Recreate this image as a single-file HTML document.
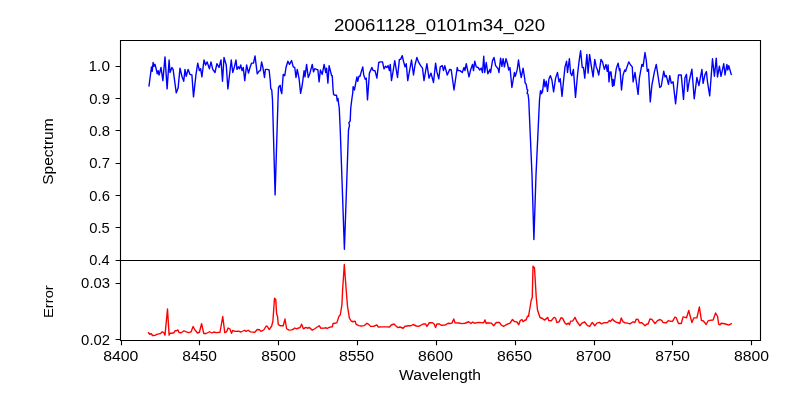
<!DOCTYPE html>
<html><head><meta charset="utf-8"><style>html,body{margin:0;padding:0;background:#fff;width:800px;height:400px;overflow:hidden}svg{display:block;will-change:transform}text{font-family:"Liberation Sans",sans-serif;fill:#000}</style></head><body><svg width="800" height="400" viewBox="0 0 800 400">
<rect width="800" height="400" fill="#fff"/>
<polyline points="149.00,86.00 150.60,73.75 151.50,66.85 152.25,71.30 153.10,62.50 154.00,66.30 155.00,64.35 156.00,68.10 157.25,73.80 158.10,70.60 159.10,75.00 161.00,67.50 162.90,80.65 165.00,56.85 167.10,88.90 169.10,60.00 170.00,72.50 171.90,67.50 173.10,69.40 176.25,92.90 178.10,88.10 180.00,68.10 181.90,76.25 183.75,81.30 185.00,69.35 186.25,76.30 188.10,69.35 190.00,74.40 191.90,75.00 193.50,96.90 196.00,74.40 197.75,63.10 199.40,70.65 200.60,68.70 201.90,76.90 204.00,60.00 205.60,65.00 207.10,61.85 209.40,68.80 211.00,61.85 212.75,69.40 215.00,72.50 216.90,63.70 219.00,67.50 221.00,60.00 222.50,81.30 224.00,57.50 226.25,65.00 227.90,88.90 231.25,60.00 232.75,72.50 234.40,66.90 236.00,60.00 237.00,69.40 238.50,66.85 239.50,68.80 240.75,65.00 242.00,70.65 243.25,67.50 244.75,80.65 246.60,65.00 248.50,73.15 250.00,67.50 251.60,63.10 253.50,63.15 255.00,55.85 257.25,73.80 259.10,71.20 260.40,70.65 261.60,61.85 262.90,67.50 264.50,77.50 265.40,69.35 267.25,69.40 269.10,70.00 270.30,81.00 270.75,88.50 271.75,90.00 272.50,100.00 275.10,194.90 278.00,100.00 278.50,87.50 279.50,86.00 280.25,85.40 280.70,90.00 281.75,93.60 283.25,74.35 284.75,75.65 286.00,67.50 287.90,61.20 289.50,64.40 291.60,60.60 293.25,66.90 294.75,67.50 296.00,77.50 297.25,69.35 299.10,78.75 300.60,93.40 302.25,85.00 304.10,70.60 305.00,76.90 306.60,64.35 308.25,77.50 309.75,73.75 312.25,64.35 313.50,71.90 314.75,68.70 316.60,69.40 317.90,70.00 319.10,81.90 320.40,70.00 322.25,74.40 324.10,64.35 325.75,72.50 326.60,68.10 327.90,83.15 329.10,65.60 331.60,75.60 332.25,75.60 333.00,88.50 333.50,94.00 334.25,95.00 335.50,95.20 336.50,95.20 337.25,100.90 338.00,98.40 338.50,103.00 339.25,108.00 340.25,130.00 342.00,180.00 344.40,249.20 346.80,180.00 348.50,130.00 349.50,125.30 348.90,122.60 350.20,121.00 350.75,108.00 352.00,98.00 352.75,93.00 353.10,86.60 354.40,90.00 356.90,76.85 357.75,81.30 359.00,76.20 360.00,76.30 361.25,71.90 362.75,66.85 363.75,75.00 365.25,79.40 366.25,78.10 367.50,99.90 369.40,73.10 371.90,67.50 373.10,70.60 375.00,70.60 376.90,78.15 378.75,62.50 380.60,61.85 382.50,61.90 384.00,68.80 385.60,66.20 386.90,67.50 388.10,65.60 389.40,70.65 390.25,64.35 391.50,80.65 393.10,71.25 394.75,60.60 396.00,68.10 397.50,77.50 399.40,59.35 400.60,59.40 402.25,55.60 403.50,61.25 405.00,66.90 406.25,63.70 407.75,80.65 411.50,60.00 413.50,75.00 415.00,65.00 416.90,57.50 418.50,61.90 420.60,65.60 422.50,68.10 424.00,80.65 426.90,63.70 429.00,78.15 431.00,73.10 433.50,82.50 435.60,63.10 436.90,71.90 438.75,78.80 440.25,66.90 442.25,65.60 443.50,70.65 444.75,65.60 447.25,75.00 449.75,69.35 451.25,70.00 454.00,90.00 457.25,67.50 458.10,70.65 460.00,70.60 462.25,72.50 464.00,67.50 465.00,70.65 466.25,63.70 469.00,76.90 470.60,70.00 472.50,64.35 473.50,70.65 474.75,61.20 476.25,66.90 478.10,67.50 479.75,70.00 481.25,68.10 482.50,72.50 483.75,56.20 484.75,72.50 486.25,62.50 487.90,73.80 490.00,69.35 490.60,72.50 492.50,60.60 494.00,57.50 495.60,65.60 498.10,68.75 499.00,72.50 500.60,58.10 501.90,66.30 503.10,58.70 504.40,66.90 506.00,58.70 507.50,63.75 508.75,70.00 510.00,67.50 511.90,87.50 514.40,72.50 515.25,76.30 516.25,73.10 517.25,69.40 518.50,60.00 520.00,71.00 521.25,77.50 523.10,68.10 524.75,78.75 525.00,82.50 525.75,83.60 526.10,84.20 526.75,87.50 527.00,89.40 527.75,90.10 527.10,93.50 528.00,94.00 528.75,100.00 532.00,175.00 533.90,239.60 536.00,175.00 539.50,100.00 540.50,90.60 540.90,93.80 541.75,93.40 542.50,89.60 542.50,91.90 544.00,79.35 545.00,86.90 546.25,81.20 547.50,91.40 549.00,78.75 550.40,75.60 551.90,80.00 553.60,91.90 555.60,78.10 557.50,72.50 559.00,81.90 560.25,78.70 562.00,96.40 563.75,78.75 565.00,66.90 566.60,61.20 567.50,72.50 569.40,58.70 570.60,73.10 571.90,75.65 573.40,69.35 575.50,97.40 577.50,75.00 579.00,61.90 580.60,50.60 582.25,67.50 583.50,67.50 584.75,78.15 586.90,54.35 588.10,73.15 589.60,54.35 591.25,65.60 593.10,76.90 594.75,59.35 596.25,66.90 597.50,70.00 598.75,75.00 601.00,59.35 602.50,61.90 604.40,69.40 606.00,64.35 607.25,71.30 608.10,65.00 609.00,81.90 610.00,71.85 611.00,71.90 612.50,86.30 613.10,79.35 614.00,85.65 616.25,68.75 618.10,63.10 619.40,70.65 620.00,68.70 621.50,90.00 623.10,75.00 624.75,70.00 625.60,71.30 628.75,61.85 630.60,65.00 632.25,66.90 633.10,81.90 635.00,72.50 638.10,94.40 639.40,78.10 640.60,71.25 641.90,64.35 643.10,66.30 645.00,52.50 646.25,60.00 647.25,71.30 648.50,69.35 650.25,101.90 651.90,85.00 654.40,71.90 656.25,64.35 658.10,76.25 659.75,87.50 661.25,86.25 663.75,71.20 665.00,76.90 666.25,75.60 668.50,84.40 669.75,75.60 671.25,83.15 673.10,81.85 675.60,103.80 678.50,75.00 681.25,75.00 683.50,99.40 685.00,77.50 686.50,74.35 687.60,91.30 689.20,81.25 691.90,69.10 694.20,98.80 696.90,77.50 698.90,85.65 701.90,69.35 703.10,83.40 705.00,74.50 706.40,71.60 707.40,81.25 709.70,95.90 712.50,58.70 714.40,76.30 716.25,58.10 717.50,76.90 719.40,66.20 721.00,76.30 723.75,63.70 725.00,75.00 726.90,64.35 727.75,70.00 728.75,65.60 731.25,74.40" fill="none" stroke="#0000ff" stroke-width="1.39" stroke-linejoin="round" stroke-linecap="square"/>
<polyline points="148.50,332.75 149.75,334.25 151.25,333.60 152.50,335.50 154.00,335.50 155.60,335.10 156.90,334.25 158.75,333.90 160.60,333.50 162.25,331.75 163.75,332.50 165.00,335.10 167.50,309.00 169.10,335.10 170.00,333.25 171.90,333.25 173.75,332.75 175.25,330.75 176.50,330.75 177.90,329.90 179.00,332.60 181.25,332.75 184.00,330.75 186.25,331.90 188.75,332.60 191.00,331.90 193.10,326.50 195.00,330.00 197.50,333.00 199.40,332.25 201.60,323.60 203.75,333.50 206.25,333.50 209.40,331.75 211.90,333.00 213.75,332.00 216.25,332.60 220.00,332.25 222.75,316.50 224.75,332.60 226.50,331.90 228.10,328.00 230.00,329.00 231.50,333.25 232.75,330.50 235.00,331.40 238.50,331.10 241.00,332.00 244.50,330.25 246.00,331.40 248.25,330.25 250.40,331.90 254.75,332.25 257.25,329.50 259.50,329.75 261.00,331.40 263.75,330.00 266.00,326.25 267.25,326.25 269.10,329.50 271.60,326.25 272.90,321.25 274.50,298.25 275.75,299.40 276.60,313.75 277.50,316.25 278.25,324.40 280.00,325.75 281.25,325.75 283.25,325.75 285.00,319.00 286.60,328.75 289.10,330.10 291.60,329.90 293.25,329.25 294.75,328.00 296.60,328.90 298.50,328.00 300.00,327.60 301.60,324.25 303.50,328.90 305.75,327.40 307.90,328.25 309.10,327.40 312.25,330.10 314.75,328.75 319.10,325.75 321.00,328.25 324.10,328.10 326.00,327.75 327.25,328.50 329.10,327.40 332.25,326.75 333.10,323.50 335.60,323.25 336.90,322.60 339.00,316.25 340.25,315.00 341.90,305.00 342.60,290.00 344.30,264.50 346.20,290.00 347.50,306.25 349.40,318.10 351.25,321.00 353.10,321.75 355.00,321.10 356.25,324.40 358.75,325.60 361.25,326.00 364.40,325.60 366.90,323.25 368.75,324.40 370.60,326.40 373.75,326.25 376.90,324.90 378.10,327.00 382.50,326.90 386.25,326.90 389.40,327.00 391.25,325.00 394.00,324.00 396.25,326.25 398.10,327.60 400.00,327.00 403.10,328.25 405.00,326.25 408.75,325.75 411.00,325.75 413.10,324.50 416.25,326.00 418.75,326.40 423.10,324.00 425.60,324.00 426.90,326.40 429.40,322.75 432.50,322.75 434.00,323.75 435.60,327.60 436.90,324.00 439.40,324.00 441.25,325.25 445.00,325.10 448.10,323.25 450.00,323.50 451.90,323.10 453.75,319.00 455.00,322.75 458.75,323.00 461.90,323.60 465.00,323.25 468.75,321.75 471.00,323.50 472.75,322.00 474.40,323.25 478.75,322.40 481.25,322.60 483.75,322.75 485.00,319.90 486.25,323.50 487.50,322.75 491.25,323.10 493.75,325.75 496.25,322.50 499.40,322.40 501.25,325.00 503.50,326.40 506.25,324.75 510.00,323.10 512.50,319.50 514.40,321.50 516.90,321.90 518.75,324.75 520.25,320.60 521.90,319.50 523.10,321.75 524.40,320.50 526.25,319.75 527.50,316.10 528.50,316.40 530.00,307.50 531.25,300.00 532.25,297.50 533.00,266.30 534.50,268.00 536.25,297.50 537.50,310.00 540.00,317.50 542.50,318.50 544.60,320.10 547.75,317.40 548.75,320.60 551.25,320.75 554.00,317.40 555.60,318.10 556.90,322.60 559.00,321.90 561.00,317.75 562.50,318.10 565.00,323.10 566.25,324.25 568.50,323.25 569.40,324.75 570.60,321.10 572.75,321.00 575.00,317.40 576.90,321.50 580.00,325.75 581.90,323.10 584.75,322.00 587.50,325.60 589.75,326.40 592.25,322.40 594.75,325.75 596.90,323.10 599.40,322.40 601.50,323.90 603.75,322.75 607.50,322.60 609.40,320.50 610.60,321.40 612.50,319.00 613.75,320.60 615.60,321.90 618.10,322.75 619.75,323.50 621.25,318.00 623.10,321.90 625.00,322.75 627.50,323.10 630.00,323.90 633.10,321.75 634.75,322.60 636.25,319.25 638.10,319.40 639.40,322.75 641.90,322.75 645.00,325.75 646.90,324.00 648.10,324.00 650.00,319.00 651.90,319.40 655.00,323.50 657.50,320.60 660.00,319.50 661.90,320.60 663.10,322.60 666.25,322.75 668.50,320.50 670.00,321.25 672.50,321.40 675.00,317.00 676.25,317.75 678.50,323.50 681.25,323.50 683.10,316.90 685.30,317.40 686.50,317.75 688.75,310.50 691.90,322.60 693.75,317.90 696.90,317.75 699.40,307.00 701.40,320.30 703.40,321.00 706.25,324.50 708.10,320.80 710.00,320.30 713.10,320.10 715.60,313.00 717.50,316.25 718.75,324.40 720.00,324.75 721.25,323.25 723.10,323.50 725.60,324.00 728.75,325.10 731.25,323.75" fill="none" stroke="#ff0000" stroke-width="1.39" stroke-linejoin="round" stroke-linecap="square"/>
<path d="M120.5,40.5H760.5V340.5H120.5ZM120.5,260.5H760.5" fill="none" stroke="#000" stroke-width="1.11" stroke-linecap="square"/>
<path d="M115.64,66.5H120.5M115.64,98.5H120.5M115.64,130.5H120.5M115.64,163.5H120.5M115.64,195.5H120.5M115.64,227.5H120.5M115.64,260.5H120.5M115.64,283.5H120.5M115.64,339.5H120.5M121.5,340.5V345.36M199.5,340.5V345.36M278.5,340.5V345.36M357.5,340.5V345.36M436.5,340.5V345.36M515.5,340.5V345.36M594.5,340.5V345.36M672.5,340.5V345.36M751.5,340.5V345.36" fill="none" stroke="#000" stroke-width="1.11"/>
<text id="title" x="333.95" y="31.23" font-size="17.30" textLength="211.12" lengthAdjust="spacingAndGlyphs">20061128_0101m34_020</text>
<text id="wl" x="399.02" y="379.60" font-size="13.85" textLength="82.00" lengthAdjust="spacingAndGlyphs">Wavelength</text>
<text id="spec" transform="translate(52.80,184.84) rotate(-90)" font-size="14.32" textLength="66.50" lengthAdjust="spacingAndGlyphs">Spectrum</text>
<text id="err" transform="translate(52.50,318.00) rotate(-90)" font-size="11.96" textLength="32.72" lengthAdjust="spacingAndGlyphs">Error</text>
<text id="y10" x="88.60" y="71.00" font-size="14.71" textLength="21.32" lengthAdjust="spacingAndGlyphs">1.0</text>
<text id="y09" x="89.29" y="104.00" font-size="14.71" textLength="20.68" lengthAdjust="spacingAndGlyphs">0.9</text>
<text id="y08" x="89.29" y="136.00" font-size="14.71" textLength="20.67" lengthAdjust="spacingAndGlyphs">0.8</text>
<text id="y07" x="89.29" y="168.00" font-size="14.71" textLength="20.69" lengthAdjust="spacingAndGlyphs">0.7</text>
<text id="y06" x="89.29" y="201.00" font-size="14.71" textLength="20.60" lengthAdjust="spacingAndGlyphs">0.6</text>
<text id="y05" x="89.29" y="233.00" font-size="14.71" textLength="20.55" lengthAdjust="spacingAndGlyphs">0.5</text>
<text id="y04" x="89.31" y="265.00" font-size="14.71" textLength="20.36" lengthAdjust="spacingAndGlyphs">0.4</text>
<text id="y003" x="81.13" y="288.00" font-size="14.71" textLength="28.90" lengthAdjust="spacingAndGlyphs">0.03</text>
<text id="y002" x="81.13" y="345.00" font-size="14.71" textLength="28.94" lengthAdjust="spacingAndGlyphs">0.02</text>
<text id="x8400" x="103.17" y="360.50" font-size="15.08" textLength="35.24" lengthAdjust="spacingAndGlyphs">8400</text>
<text id="x8450" x="182.36" y="360.50" font-size="15.08" textLength="34.57" lengthAdjust="spacingAndGlyphs">8450</text>
<text id="x8500" x="261.36" y="360.50" font-size="15.08" textLength="34.57" lengthAdjust="spacingAndGlyphs">8500</text>
<text id="x8550" x="339.01" y="360.50" font-size="15.08" textLength="35.08" lengthAdjust="spacingAndGlyphs">8550</text>
<text id="x8600" x="418.01" y="360.50" font-size="15.08" textLength="35.08" lengthAdjust="spacingAndGlyphs">8600</text>
<text id="x8650" x="497.01" y="360.50" font-size="15.08" textLength="35.08" lengthAdjust="spacingAndGlyphs">8650</text>
<text id="x8700" x="576.01" y="360.50" font-size="15.08" textLength="35.08" lengthAdjust="spacingAndGlyphs">8700</text>
<text id="x8750" x="655.36" y="360.50" font-size="15.08" textLength="34.57" lengthAdjust="spacingAndGlyphs">8750</text>
<text id="x8800" x="733.97" y="360.50" font-size="15.08" textLength="35.04" lengthAdjust="spacingAndGlyphs">8800</text>
</svg></body></html>
